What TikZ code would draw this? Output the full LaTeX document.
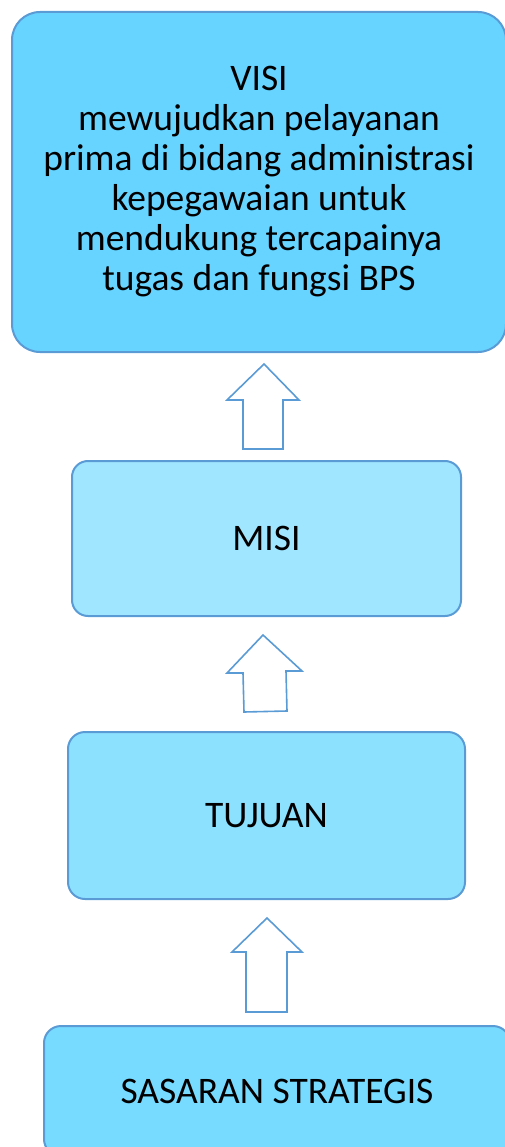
\documentclass[tikz,border=0pt]{standalone}
\usepackage{fontspec}
\setmainfont{Carlito}
\definecolor{edgeblue}{HTML}{5B9BD5}
\definecolor{visifill}{HTML}{66D4FF}
\definecolor{misifill}{HTML}{A0E6FF}
\definecolor{tujuanfill}{HTML}{8CE1FF}
\definecolor{sasaranfill}{HTML}{77DBFF}
\begin{document}
\begin{tikzpicture}[x=1pt,y=-1pt,
  box/.style={draw=edgeblue, line width=2pt, inner sep=0pt, anchor=north west,
    text=black, align=center, font=\fontsize{37.5}{40}\selectfont},
  blockarrow/.style={draw=edgeblue, line width=1.6pt, fill=white, line join=miter}]
\useasboundingbox (0,0) rectangle (504,1147);
\node[box, fill=visifill, rounded corners=28pt, minimum width=494pt, minimum height=340pt] (visi) at (11,11)
  {VISI\\mewujudkan pelayanan\\prima di bidang administrasi\\kepegawaian untuk\\mendukung tercapainya\\tugas dan fungsi BPS};
\node[box, fill=misifill, rounded corners=16pt, minimum width=389pt, minimum height=155pt] (misi) at (71,460) {MISI};
\node[box, fill=tujuanfill, rounded corners=17pt, minimum width=397pt, minimum height=167pt] (tujuan) at (67,731) {TUJUAN};
\node[box, fill=sasaranfill, rounded corners=17pt, minimum width=466pt, minimum height=130pt] (sasaran) at (43,1025) {SASARAN STRATEGIS};
\draw[blockarrow] (243,449) -- (243,400) -- (227,400) -- (264,364) -- (299,400) -- (283,400) -- (283,449) -- cycle;
\draw[blockarrow] (244,712) -- (243,673) -- (227,673) -- (263,635) -- (302,671) -- (286,671) -- (287,711) -- cycle;
\draw[blockarrow] (246,1012) -- (246,952) -- (232,952) -- (267,918) -- (302,952) -- (287,952) -- (287,1012) -- cycle;
\end{tikzpicture}
\end{document}
